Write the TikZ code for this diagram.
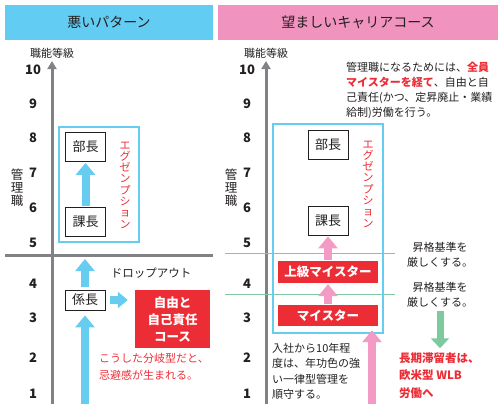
\documentclass[tikz,border=0pt]{standalone}
\usepackage{fontspec}
\setmainfont{Noto Sans CJK JP}
\usetikzlibrary{arrows.meta,positioning}
\definecolor{HdrBlue}{RGB}{99,204,242}
\definecolor{HdrPink}{RGB}{241,147,191}
\definecolor{BoxRed}{RGB}{237,45,54}
\definecolor{ArrBlue}{RGB}{102,204,240}
\definecolor{ArrPink}{RGB}{243,155,196}
\definecolor{LineGreen}{RGB}{126,202,158}
\definecolor{AxisGray}{RGB}{128,130,133}
\definecolor{TxtClr}{RGB}{35,31,32}

\begin{document}
\begin{tikzpicture}[x=1pt,y=-1pt,
  every node/.style={text=TxtClr,inner sep=0pt},
  hdr/.style={minimum height=35pt,font=\fontsize{14}{16}\selectfont},
  grade/.style={font=\fontsize{13}{15}\selectfont\bfseries},
  axislbl/.style={font=\fontsize{11}{13}\selectfont},
  postbox/.style={draw=TxtClr,line width=0.8pt,fill=white,minimum width=40pt,
    minimum height=29pt,font=\fontsize{13}{15}\selectfont},
  redbox/.style={fill=BoxRed,text=white,align=center,
    font=\fontsize{12.5}{17}\selectfont\bfseries},
  vtext/.style={align=center,font=\fontsize{11}{11.3}\selectfont},
  note/.style={align=left,font=\fontsize{11}{15.5}\selectfont},
  axisline/.style={AxisGray,line width=3pt,-{Triangle[length=8pt,width=9pt]}},
  frameline/.style={ArrBlue,line width=2pt},
  blockarr/.style={line width=8pt,-{Triangle[length=12pt,width=19pt]}}
]
\useasboundingbox (0,0) rectangle (503,410);

% Headers
\node[hdr,fill=HdrBlue,minimum width=208pt] (badhdr) at (109,22.5) {悪いパターン};
\node[hdr,fill=HdrPink,minimum width=280pt] (goodhdr) at (358,22.5) {望ましいキャリアコース};

% Grade axes
\coordinate (axLb) at (52,404); \coordinate (axLt) at (52,61);
\coordinate (axRb) at (266,404); \coordinate (axRt) at (266,61);
\coordinate (hlL) at (5,255); \coordinate (hlR) at (213,255);
\draw[axisline] (axLb) -- (axLt);
\draw[axisline] (axRb) -- (axRt);
\draw[AxisGray,line width=3pt] (hlL) -- (hlR);
\node[axislbl] (gradeL) at (52,53) {職能等級};
\node[axislbl] (gradeR) at (266,53) {職能等級};
\foreach \n/\yy in {10/70,9/104,8/138,7/173,6/208,5/243,4/284,3/318,2/358,1/394}{
  \node[grade] (gL\n) at (33,\yy) {\n};
  \node[grade] (gR\n) at (247,\yy) {\n};
}
\node[vtext,font=\fontsize{12.5}{13}\selectfont] (mgrL) at (17,188) {管\\理\\職};
\node[vtext,font=\fontsize{12.5}{13}\selectfont] (mgrR) at (231,188) {管\\理\\職};

% Promotion thresholds
\coordinate (g1a) at (225,253); \coordinate (g1b) at (395,253);
\coordinate (g2a) at (225,294); \coordinate (g2b) at (395,294);
\draw[LineGreen,line width=0.8pt] (g1a) -- (g1b);
\draw[LineGreen,line width=0.8pt] (g2a) -- (g2b);

% Bad pattern
\draw[frameline] (59,127) rectangle (139,242);
\node[postbox] (buchoL) at (85.5,147) {部長};
\node[postbox] (kachoL) at (85.5,222) {課長};
\node[postbox,minimum height=20pt] (kakaricho) at (85,300) {係長};
\node[vtext,text=BoxRed] (exemptL) at (125,185) {エ\\グ\\ゼ\\ン\\プ\\シ\\ョ\\ン};
\node[redbox,minimum width=75pt,minimum height=58pt] (jiyu) at (172.5,319) {自由と\\自己責任\\コース};
\node[font=\fontsize{11.5}{13}\selectfont] (dropout) at (151,273) {ドロップアウト};
\node[note,anchor=west,text=BoxRed,font=\fontsize{11}{17}\selectfont] (kihi) at (99,366.5)
  {こうした分岐型だと、\\忌避感が生まれる。};
\coordinate (dropTop) at (85,259);
\coordinate (entryL) at (85,404);
\draw[blockarr,ArrBlue,shorten <=1pt,shorten >=1pt] (kachoL) -- (buchoL);
\draw[blockarr,ArrBlue,shorten <=3pt] (kakaricho) -- (dropTop);
\draw[blockarr,ArrBlue,shorten >=5pt] (entryL) -- (kakaricho);
\draw[line width=8pt,ArrBlue,-{Triangle[length=10pt,width=16pt]},shorten <=5pt,shorten >=7pt]
  (kakaricho.east) -- (kakaricho.east -| jiyu.west);

% Preferred course
\draw[frameline] (273,124) rectangle (383,333);
\node[postbox] (buchoR) at (328,144.5) {部長};
\node[postbox] (kachoR) at (328,220.5) {課長};
\node[redbox,minimum width=100pt,minimum height=22pt] (joukyu) at (328,272) {上級マイスター};
\node[redbox,minimum width=100pt,minimum height=21pt] (meister) at (328,315.5) {マイスター};
\node[vtext,text=BoxRed] (exemptR) at (368,184) {エ\\グ\\ゼ\\ン\\プ\\シ\\ョ\\ン};
\coordinate (entryR) at (372,404);
\draw[blockarr,ArrPink,shorten <=1pt,shorten >=1pt] (joukyu) -- (kachoR);
\draw[blockarr,ArrPink,shorten <=1pt,shorten >=1pt] (meister) -- (joukyu);
\draw[blockarr,ArrPink,shorten >=4pt] (entryR) -- (entryR |- meister.south);

\node[note,anchor=west,font=\fontsize{11}{15}\selectfont] (rule) at (346,90.5)
  {管理職になるためには、\textcolor{BoxRed}{\bfseries 全員}\\
   \textcolor{BoxRed}{\bfseries マイスターを経て}、自由と自\\
   己責任(かつ、定昇廃止・業績\\
   給制)労働を行う。};
\node[note,anchor=west] (nyusha) at (272,371.5)
  {入社から10年程\\度は、年功色の強\\い一律型管理を\\順守する。};
\node[align=center,font=\fontsize{11}{15}\selectfont] (kijun1) at (440,254.5) {昇格基準を\\厳しくする。};
\node[align=center,font=\fontsize{11}{15}\selectfont] (kijun2) at (440,295) {昇格基準を\\厳しくする。};
\node[note,anchor=west,text=BoxRed,font=\fontsize{11.5}{17.5}\selectfont\bfseries] (choki) at (399,375.5)
  {長期滞留者は、\\欧米型 WLB\\労働へ};
\draw[line width=7pt,LineGreen,-{Triangle[length=10pt,width=18pt]},shorten <=3pt,shorten >=4pt]
  (kijun2.south) -- (kijun2.south |- choki.north);

\end{tikzpicture}
\end{document}
